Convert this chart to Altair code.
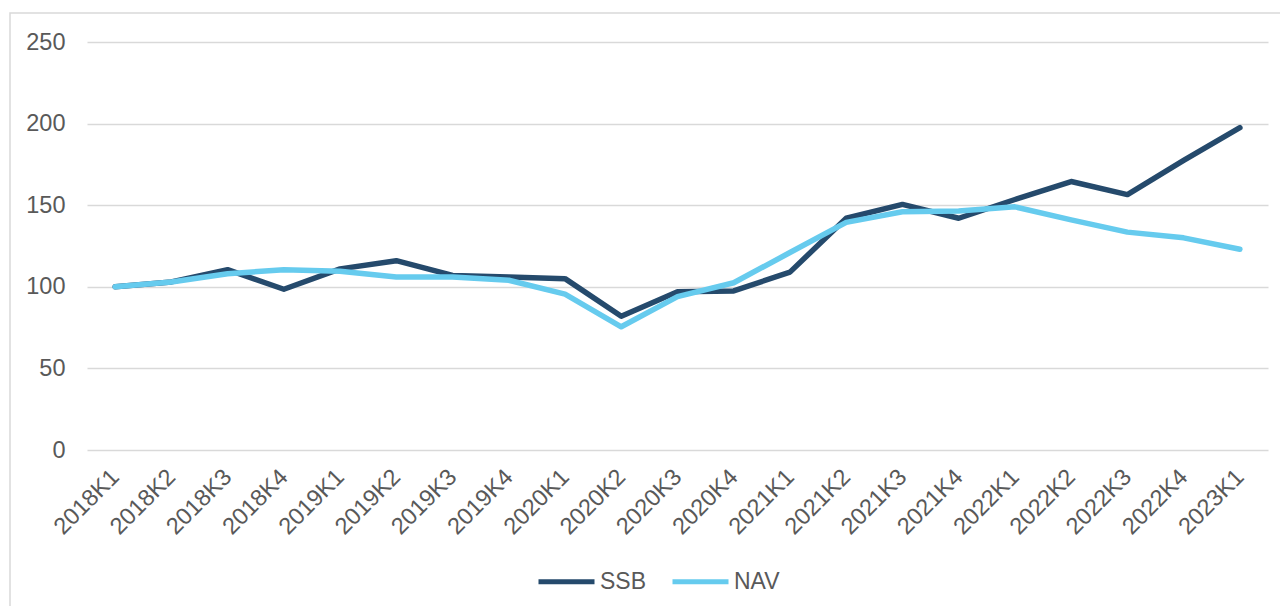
import altair as alt
import pandas as pd

quarters = ["2018K1", "2018K2", "2018K3", "2018K4",
            "2019K1", "2019K2", "2019K3", "2019K4",
            "2020K1", "2020K2", "2020K3", "2020K4",
            "2021K1", "2021K2", "2021K3", "2021K4",
            "2022K1", "2022K2", "2022K3", "2022K4",
            "2023K1"]
ssb = [100, 103, 110.5, 98.5, 111, 116, 107, 106, 105, 82, 97, 97.5,
       109, 142, 150.5, 142, 153.5, 164.5, 156.5, 177.5, 197.5]
nav = [100, 103, 108, 110.5, 109.5, 106, 106, 104, 95.5, 75.5, 94, 102.5,
       121, 139.5, 146, 146.5, 149, 141, 133.5, 130, 123]
series_names = ["SSB", "NAV"]
series_colors = ["#254A6C", "#66CBEE"]
y_ticks = [0, 50, 100, 150, 200, 250]

df_ssb = pd.DataFrame({"kvartal": quarters, "verdi": ssb, "serie": "SSB"})
df_nav = pd.DataFrame({"kvartal": quarters, "verdi": nav, "serie": "NAV"})

FONT = "Liberation Sans"
TXT = "#595959"

color = alt.Color(
    "serie:N",
    scale=alt.Scale(domain=series_names, range=series_colors),
    legend=alt.Legend(
        title=None, orient="none", direction="horizontal",
        legendX=449, legendY=509, padding=0,
        symbolType="stroke", symbolSize=3136, symbolStrokeWidth=5,
        labelFont=FONT, labelFontSize=23, labelColor=TXT,
        labelOffset=3, columnPadding=15,
    ),
)

x = alt.X(
    "kvartal:O", sort=quarters, title=None,
    axis=alt.Axis(labelAngle=-45, labelAlign="right", labelBaseline="middle",
                  labelPadding=23, ticks=False, tickSize=0, domain=False,
                  labelFont=FONT, labelFontSize=23.5, labelColor=TXT,
                  grid=False),
)
y = alt.Y(
    "verdi:Q", title=None,
    scale=alt.Scale(domain=[0, 250], nice=False),
    axis=alt.Axis(values=y_ticks, ticks=False, tickSize=0, domain=False,
                  labelPadding=22, labelFont=FONT, labelFontSize=23.5,
                  labelColor=TXT, grid=True, gridColor="#D9D9D9",
                  gridWidth=1.5),
)

frame = alt.Chart(pd.DataFrame({"a": [0]})).mark_rect(
    fill=None, stroke="#D9D9D9", strokeWidth=1.5
).encode(x=alt.value(-77), x2=alt.value(1400), y=alt.value(-29), y2=alt.value(800))

line_ssb = alt.Chart(df_ssb).mark_line(strokeWidth=5.5, strokeCap="round",
                                       strokeJoin="round").encode(x=x, y=y, color=color)
line_nav = alt.Chart(df_nav).mark_line(strokeWidth=5.5, strokeCap="round",
                                       strokeJoin="round").encode(x=x, y=y, color=color)

chart = alt.layer(frame, line_ssb, line_nav).properties(
    width=1181, height=408,
    autosize=alt.AutoSizeParams(type="none"),
    padding={"left": 79, "top": 34, "right": 12, "bottom": 156},
).configure_view(stroke=None).configure_scale(pointPadding=0.5)

chart.save("out.html", embed_options={"renderer": "svg", "actions": False})
